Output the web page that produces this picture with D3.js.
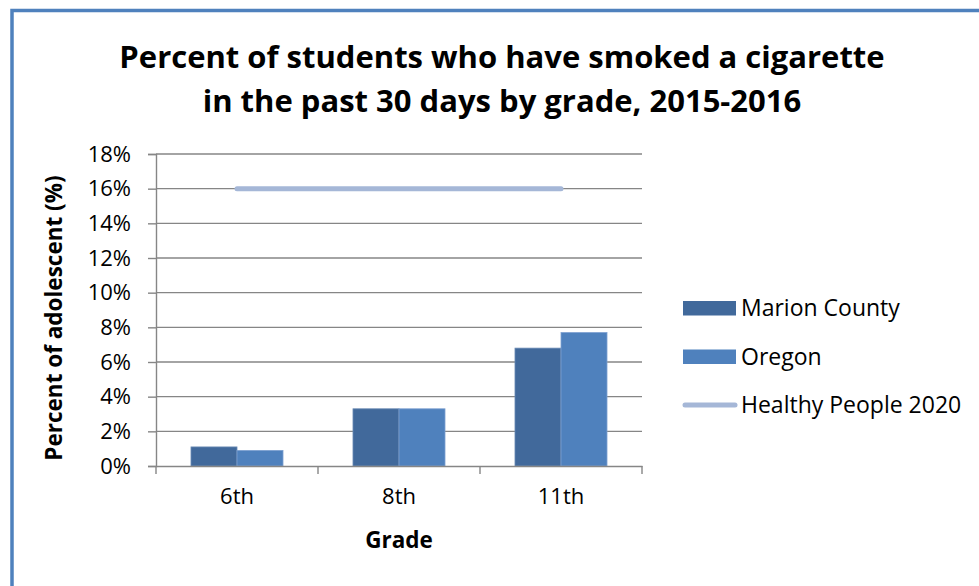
<!DOCTYPE html>
<html>
<head>
<meta charset="utf-8">
<script src="https://cdn.jsdelivr.net/npm/d3@7"></script>
<style>
  html, body { margin: 0; padding: 0; background: #fff; overflow: hidden; }
  text { font-family: 'Open Sans', 'Noto Sans', sans-serif; fill: #000; }
</style>
</head>
<body>
<div id="chart"></div>
<script>
// ── Data ─────────────────────────────────────────────
const grades = ['6th', '8th', '11th'];
const seriesNames = ['Marion County', 'Oregon'];
const marionValues = [1.1, 3.3, 6.8];
const oregonValues = [0.9, 3.3, 7.7];
const healthyPeopleTarget = [16, 16, 16];
const yTicks = [0, 2, 4, 6, 8, 10, 12, 14, 16, 18];
const titleLines = ['Percent of students who have smoked a cigarette', 'in the past 30 days by grade, 2015-2016'];

const W = 979, H = 586;
const colors = { 'Marion County': '#41699B', 'Oregon': '#4F81BD', line: '#A5B7D7' };
const gridColor = '#868686';

const svg = d3.select('#chart').append('svg')
  .attr('width', W).attr('height', H);

// frame (only left/top visible, the rest runs off the picture)
svg.append('rect')
  .attr('x', 12).attr('y', 10.5)
  .attr('width', 1200).attr('height', 1200)
  .attr('fill', 'none')
  .attr('stroke', '#4F81BD')
  .attr('stroke-width', 3.5);

// plot area
const plot = { left: 156, right: 642, top: 154, bottom: 466 };

const x0 = d3.scaleBand().domain(grades)
  .range([plot.left, plot.right])
  .paddingInner(0.432).paddingOuter(0.216);
const x1 = d3.scaleBand().domain(seriesNames).range([0, x0.bandwidth()]);
const xPoint = d3.scalePoint().domain(grades)
  .range([plot.left, plot.right]).padding(0.5);
const y = d3.scaleLinear().domain([0, 18]).range([plot.bottom, plot.top]);

// gridlines
svg.append('g').selectAll('line')
  .data(yTicks.filter(t => t > 0))
  .enter().append('line')
  .attr('x1', plot.left).attr('x2', plot.right)
  .attr('y1', d => y(d)).attr('y2', d => y(d))
  .attr('stroke', gridColor).attr('stroke-width', 1.4);

// y axis
const yAxis = svg.append('g').attr('transform', `translate(${plot.left},0)`)
  .call(d3.axisLeft(y).tickValues(yTicks).tickSize(8).tickPadding(17)
    .tickFormat(d => d + '%'));
yAxis.select('.domain').attr('stroke', gridColor).attr('stroke-width', 1.4);
yAxis.selectAll('.tick line').attr('stroke', gridColor).attr('stroke-width', 1.4);
yAxis.selectAll('.tick text')
  .attr('font-family', "'Open Sans', sans-serif")
  .attr('font-size', 22).attr('fill', '#000');

// bars
const rows = grades.map((g, i) => ({ grade: g, values: [marionValues[i], oregonValues[i]] }));
svg.append('g').selectAll('g')
  .data(rows).enter().append('g')
  .attr('transform', d => `translate(${x0(d.grade)},0)`)
  .selectAll('rect')
  .data(d => seriesNames.map((s, j) => ({ series: s, value: d.values[j] })))
  .enter().append('rect')
  .attr('x', d => x1(d.series))
  .attr('width', x1.bandwidth())
  .attr('y', d => y(d.value))
  .attr('height', d => y(0) - y(d.value))
  .attr('fill', d => colors[d.series])
  .attr('stroke', d => d.series === 'Oregon' ? '#7EA1D1' : '#6A8AB4')
  .attr('stroke-width', 0.8);

// x axis
const xAxis = svg.append('g').attr('transform', `translate(0,${plot.bottom})`)
  .call(d3.axisBottom(x0).tickSize(0).tickPadding(22));
xAxis.select('.domain').attr('stroke', gridColor).attr('stroke-width', 1.4);
xAxis.selectAll('.tick text')
  .attr('font-family', "'Open Sans', sans-serif")
  .attr('font-size', 22).attr('fill', '#000');
// category boundary ticks
const bounds = d3.range(grades.length + 1).map(i => plot.left + i * x0.step());
xAxis.selectAll('.bound').data(bounds).enter().append('line')
  .attr('x1', d => d).attr('x2', d => d)
  .attr('y1', 0).attr('y2', 8)
  .attr('stroke', gridColor).attr('stroke-width', 1.4);

// Healthy People 2020 line
svg.append('path')
  .datum(grades.map((g, i) => [xPoint(g), y(healthyPeopleTarget[i])]))
  .attr('d', d3.line())
  .attr('fill', 'none')
  .attr('stroke', colors.line)
  .attr('stroke-width', 5)
  .attr('stroke-linecap', 'round');

// titles
svg.append('text')
  .attr('x', 502).attr('text-anchor', 'middle')
  .attr('font-weight', 'bold').attr('font-size', 31)
  .selectAll('tspan').data(titleLines).enter().append('tspan')
  .attr('x', 502).attr('y', (d, i) => 68 + i * 44)
  .text(d => d);

svg.append('text')
  .attr('transform', `translate(62,${(plot.top + plot.bottom) / 2 + 8}) rotate(-90)`)
  .attr('text-anchor', 'middle')
  .attr('font-weight', 'bold').attr('font-size', 22.5)
  .text('Percent of adolescent (%)');

svg.append('text')
  .attr('x', (plot.left + plot.right) / 2).attr('y', 548)
  .attr('text-anchor', 'middle')
  .attr('font-weight', 'bold').attr('font-size', 22.5)
  .text('Grade');

// legend
const legendItems = [
  { name: 'Marion County', type: 'bar' },
  { name: 'Oregon', type: 'bar' },
  { name: 'Healthy People 2020', type: 'line' },
];
const legend = svg.append('g').attr('transform', 'translate(683,308)');
const li = legend.selectAll('g').data(legendItems).enter().append('g')
  .attr('transform', (d, i) => `translate(0,${i * 48.5})`);
li.filter(d => d.type === 'bar').append('rect')
  .attr('x', 0).attr('y', -7).attr('width', 53).attr('height', 14.5)
  .attr('fill', d => colors[d.name]);
li.filter(d => d.type === 'line').append('line')
  .attr('x1', 2).attr('x2', 52).attr('y1', 0).attr('y2', 0)
  .attr('stroke', colors.line).attr('stroke-width', 5)
  .attr('stroke-linecap', 'round');
li.append('text')
  .attr('x', 58).attr('y', 0).attr('dy', '0.35em')
  .attr('font-size', 23)
  .text(d => d.name);
</script>
</body>
</html>
